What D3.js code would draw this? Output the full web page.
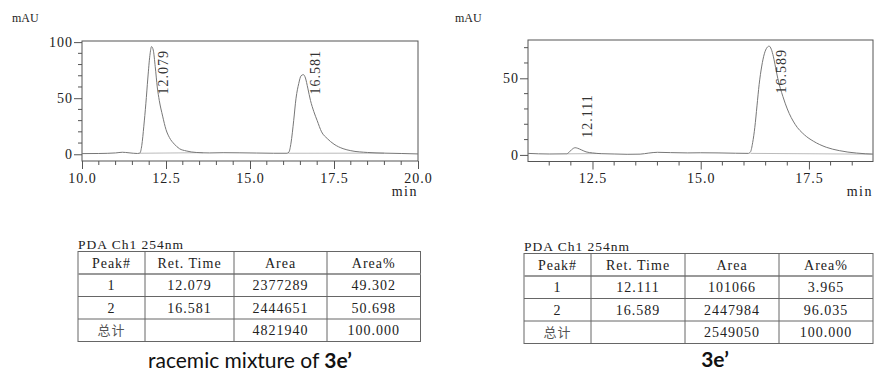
<!DOCTYPE html>
<html>
<head>
<meta charset="utf-8">
<script src="https://cdn.jsdelivr.net/npm/d3@7"></script>
<style>
  body { margin: 0; background: #fff; }
  svg { display: block; }
</style>
</head>
<body>
<svg id="chart" width="874" height="371"></svg>
<script>
// traces: [min, mAU]
var racemicTrace = [
  [10.0, 0.6], [10.5, 0.7], [11.0, 1.2], [11.2, 1.8], [11.4, 1.3], [11.65, 0.7],
  [11.72, 1.0], [11.78, 8], [11.84, 25], [11.9, 45], [11.96, 68], [12.02, 88],
  [12.07, 96], [12.12, 93], [12.18, 78], [12.24, 60], [12.3, 48], [12.4, 34],
  [12.5, 22], [12.6, 15], [12.75, 9], [12.9, 5], [13.1, 3], [13.4, 1.6],
  [13.8, 1.2], [14.2, 1.4], [14.7, 1.3], [15.2, 1.1], [15.7, 0.9], [16.1, 0.9],
  [16.16, 2], [16.22, 10], [16.3, 30], [16.37, 50], [16.45, 63], [16.52, 70],
  [16.59, 71], [16.65, 68], [16.72, 59], [16.8, 48], [16.9, 38], [17.0, 30],
  [17.13, 20], [17.3, 14], [17.5, 9], [17.77, 5], [18.0, 3.2], [18.5, 1.6],
  [19.0, 1.0], [19.5, 0.7], [20.0, 0.3]
];
var enrichedTrace = [
  [11.0, 1.0], [11.5, 0.6], [11.9, 0.7], [11.95, 1.5], [12.02, 3.5], [12.1, 4.7],
  [12.15, 4.4], [12.25, 3.2], [12.35, 2.0], [12.5, 1.3], [12.7, 0.8], [13.0, 0.6],
  [13.3, 0.4], [13.6, 0.5], [13.8, 1.2], [14.0, 1.7], [14.3, 1.5], [14.7, 1.3],
  [15.0, 1.4], [15.4, 1.3], [15.8, 1.1], [16.1, 1.0], [16.15, 2], [16.2, 8],
  [16.25, 18], [16.3, 32], [16.35, 46], [16.41, 58], [16.47, 66], [16.53, 70],
  [16.58, 71], [16.63, 69], [16.68, 64], [16.73, 57], [16.78, 50], [16.9, 38],
  [17.0, 30], [17.18, 20], [17.4, 13], [17.6, 9], [17.9, 5], [18.2, 2.8],
  [18.6, 1.2], [19.0, 0.5]
];

// integration baselines [t0, v0, t1, v1]
var racemicBaselines = [[11.72, 0.9, 13.6, 1.4], [16.14, 0.9, 19.0, 1.0]];
var enrichedBaselines = [[11.9, 0.7, 12.7, 0.9], [16.15, 1.0, 18.95, 0.5]];

var racemicPeaks = [12.079, 16.581];
var enrichedPeaks = [12.111, 16.589];

var racemicXTicks = [10, 12.5, 15, 17.5, 20];
var racemicYTicks = [0, 50, 100];
var enrichedXTicks = [12.5, 15, 17.5];
var enrichedYTicks = [0, 50];

var tableHeader = ["Peak#", "Ret. Time", "Area", "Area%"];
var racemicRows = [
  ["1", "12.079", "2377289", "49.302"],
  ["2", "16.581", "2444651", "50.698"],
  ["总计", "", "4821940", "100.000"]
];
var enrichedRows = [
  ["1", "12.111", "101066", "3.965"],
  ["2", "16.589", "2447984", "96.035"],
  ["总计", "", "2549050", "100.000"]
];

var serif = "'Liberation Serif', 'DejaVu Serif', serif";
var cjk = "'Noto Sans CJK SC', sans-serif";
var svg = d3.select("#chart");
svg.append("rect").attr("width", 874).attr("height", 371).attr("fill", "#fff");

function chromatogram(o) {
  var g = svg.append("g");
  var x = d3.scaleLinear().domain(o.xDomain).range([o.left, o.right]);
  var y = d3.scaleLinear().domain(o.yDomain).range([o.bottom, o.top]);

  var clipId = "clip" + o.left;
  svg.append("clipPath").attr("id", clipId)
    .append("rect").attr("x", o.left).attr("y", o.top)
    .attr("width", o.right - o.left).attr("height", o.bottom - o.top);

  // minor ticks
  var xMinor = d3.range(Math.ceil(o.xDomain[0] * 2) / 2, o.xDomain[1] + 0.01, 0.5)
    .filter(d => o.xTicks.indexOf(d) < 0 && d > o.xDomain[0] + 0.01 && d < o.xDomain[1] - 0.01);
  g.append("g").selectAll("line").data(xMinor).join("line")
    .attr("x1", d => x(d)).attr("x2", d => x(d))
    .attr("y1", o.bottom).attr("y2", o.bottom + 4)
    .attr("stroke", "#555");
  var yMinor = d3.range(10, o.yDomain[1], 10).filter(d => o.yTicks.indexOf(d) < 0);
  g.append("g").selectAll("line").data(yMinor).join("line")
    .attr("y1", d => y(d)).attr("y2", d => y(d))
    .attr("x1", o.left - 4).attr("x2", o.left)
    .attr("stroke", "#555");

  var xAxis = g.append("g").attr("transform", `translate(0,${o.bottom})`)
    .call(d3.axisBottom(x).tickValues(o.xTicks).tickSize(8).tickPadding(4)
      .tickFormat(d3.format(".1f")));
  var yAxis = g.append("g").attr("transform", `translate(${o.left},0)`)
    .call(d3.axisLeft(y).tickValues(o.yTicks).tickSize(8).tickPadding(1));
  [xAxis, yAxis].forEach(a => {
    a.select(".domain").remove();
    a.selectAll("line").attr("stroke", "#555");
    a.selectAll("text").attr("fill", "#222")
      .style("font-family", serif).style("font-size", "14px")
      .style("letter-spacing", "1px");
  });

  g.append("rect")
    .attr("x", o.left).attr("y", o.top)
    .attr("width", o.right - o.left).attr("height", o.bottom - o.top)
    .attr("fill", "none").attr("stroke", "#555").attr("stroke-width", 1);

  var plot = g.append("g").attr("clip-path", `url(#${clipId})`);
  plot.selectAll("line.base").data(o.baselines).join("line")
    .attr("class", "base")
    .attr("x1", d => x(d[0])).attr("y1", d => y(d[1]))
    .attr("x2", d => x(d[2])).attr("y2", d => y(d[3]))
    .attr("stroke", "#aaa").attr("stroke-width", 0.8);
  plot.append("path").datum(o.trace)
    .attr("d", d3.line().x(d => x(d[0])).y(d => y(d[1])).curve(d3.curveMonotoneX))
    .attr("fill", "none").attr("stroke", "#777").attr("stroke-width", 1);

  // peak labels: sit just above a small peak, hang from the top for tall ones
  o.peaks.forEach(rt => {
    var apex = d3.max(o.trace.filter(d => Math.abs(d[0] - rt) < 0.3), d => d[1]);
    var t = g.append("text")
      .attr("text-anchor", "start").attr("dy", "0.35em")
      .attr("fill", "#333")
      .style("font-family", serif).style("font-size", "14px")
      .style("letter-spacing", "1px")
      .text(d3.format(".3f")(rt));
    var len = t.node().getComputedTextLength();
    var bottom = Math.max(y(apex) - 10, o.top + 9 + len);
    t.attr("transform", `translate(${x(rt) + 11.5},${bottom}) rotate(-90)`);
  });

  g.append("text").attr("x", o.mauX).attr("y", 22)
    .attr("fill", "#222").style("font-family", serif).style("font-size", "12px")
    .text("mAU");
  g.append("text").attr("x", o.right).attr("y", 196).attr("text-anchor", "end")
    .attr("fill", "#222").style("font-family", serif).style("font-size", "14px")
    .style("letter-spacing", "1.5px")
    .text("min");
}

function table(o) {
  var g = svg.append("g");
  g.append("text").attr("x", o.cols[0]).attr("y", o.top - 3)
    .attr("fill", "#222").style("font-family", serif).style("font-size", "13.5px")
    .style("letter-spacing", "1px")
    .text("PDA Ch1 254nm");
  var rows = [tableHeader].concat(o.rows);
  var rowY = d3.range(rows.length + 1).map(i => o.top + i * o.rowH);
  g.append("rect")
    .attr("x", o.cols[0]).attr("y", o.top)
    .attr("width", o.cols[o.cols.length - 1] - o.cols[0]).attr("height", rows.length * o.rowH)
    .attr("fill", "none").attr("stroke", "#666");
  g.selectAll("line.r").data(rowY.slice(1, -1)).join("line")
    .attr("x1", o.cols[0]).attr("x2", o.cols[o.cols.length - 1])
    .attr("y1", d => d).attr("y2", d => d)
    .attr("stroke", (d, i) => i === 0 ? "#999" : "#666")
    .attr("stroke-width", (d, i) => i === 0 ? 2 : 1);
  g.selectAll("line.c").data(o.cols.slice(1, -1)).join("line")
    .attr("y1", o.top).attr("y2", o.top + rows.length * o.rowH)
    .attr("x1", d => d).attr("x2", d => d)
    .attr("stroke", "#666");
  rows.forEach((r, i) => {
    r.forEach((s, j) => {
      g.append("text")
        .attr("x", (o.cols[j] + o.cols[j + 1]) / 2)
        .attr("y", o.top + i * o.rowH + o.rowH / 2)
        .attr("dy", "0.36em").attr("text-anchor", "middle")
        .attr("fill", s === "总计" ? "#555" : "#222")
        .style("font-family", s === "总计" ? cjk : serif)
        .style("font-size", s === "总计" ? "13px" : "14px")
        .style("letter-spacing", "1px")
        .text(s);
    });
  });
}

chromatogram({
  left: 82, right: 418, top: 41, bottom: 161,
  xDomain: [10, 20], yDomain: [-6, 101],
  xTicks: racemicXTicks, yTicks: racemicYTicks,
  trace: racemicTrace, baselines: racemicBaselines, peaks: racemicPeaks,
  mauX: 12
});
chromatogram({
  left: 528, right: 873, top: 40, bottom: 161.5,
  xDomain: [11.01, 18.98], yDomain: [-4.3, 75],
  xTicks: enrichedXTicks, yTicks: enrichedYTicks,
  trace: enrichedTrace, baselines: enrichedBaselines, peaks: enrichedPeaks,
  mauX: 455
});

table({ cols: [78, 145, 234, 327, 420.5], top: 251.5, rowH: 22.5, rows: racemicRows });
table({ cols: [524, 591, 685, 779, 873], top: 253.5, rowH: 22.5, rows: enrichedRows });

var cap = "'Lato', 'Open Sans', sans-serif";
var c1 = svg.append("text").attr("x", 250).attr("y", 368).attr("text-anchor", "middle")
  .attr("fill", "#111").style("font-family", cap).style("font-size", "21px");
c1.append("tspan").text("racemic mixture of ");
c1.append("tspan").attr("font-weight", "bold").text("3e’");
svg.append("text").attr("x", 715).attr("y", 367).attr("text-anchor", "middle")
  .attr("fill", "#111").style("font-family", cap).style("font-size", "21px")
  .attr("font-weight", "bold").text("3e’");
</script>
</body>
</html>
